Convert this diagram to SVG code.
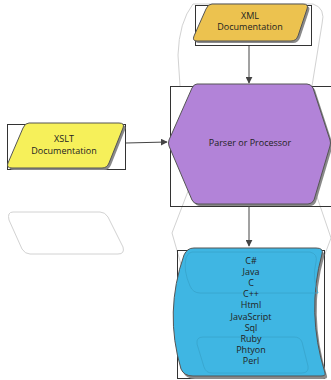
<svg xmlns="http://www.w3.org/2000/svg" width="331" height="380" viewBox="0 0 331 380">
<defs>
<style>
.ghost{fill:none;stroke:#d2d2d2;stroke-width:1}
.bbox{fill:none;stroke:#333;stroke-width:1}
.shadow{fill:#8a8a8a;stroke:none}
.shape{stroke:#555;stroke-width:1}
.lbl{font-family:"Open Sans","DejaVu Sans",sans-serif;font-size:9px;fill:#222;text-anchor:middle}
.conn{fill:none;stroke:#444;stroke-width:1}
.inner{fill:none;stroke:#37a3cc;stroke-width:0.8}
</style>
<marker id="arr" viewBox="0 0 10 10" refX="9" refY="5" markerWidth="7" markerHeight="7" orient="auto" markerUnits="userSpaceOnUse">
<path d="M0,0 L10,5 L0,10 Z" fill="#444"/>
</marker>
</defs>
<g id="ghosts">
<path class="ghost" d="M193,4 Q179,22 178,55 L180,86"/>
<path class="ghost" d="M193,4 L313,4 Q326,8 322,24 L312,86"/>
<path class="ghost" d="M190,186 L172,233 L186,282"/>
<path class="ghost" d="M314,188 L331,238 L322,262"/>
<path class="ghost" d="M13,212 L100,212 Q105,212 108,217 L123,247 Q125,254 118,254 L30,254 Q25,254 22,249 L9,220 Q7,212 13,212 Z"/>
</g>
<g id="xml">
<rect class="bbox" x="195.5" y="5.5" width="116" height="40"/>
<path class="shadow" d="M214,6 L305,6 Q311,6 309,11 L300,38 Q298,43 293,43 L199,43 Q194,43 196,38 L208,11 Q210,6 214,6 Z"/>
<path class="shape" fill="#ecc24f" d="M212,4 L303,4 Q309,4 307,9 L298,36 Q296,41 291,41 L197,41 Q192,41 194,36 L206,9 Q208,4 212,4 Z"/>
<text class="lbl" x="250" y="19">XML</text>
<text class="lbl" x="250" y="30">Documentation</text>
</g>
<g id="xslt">
<rect class="bbox" x="7.5" y="124.5" width="118" height="45"/>
<path class="shadow" d="M31,125 L121,125 Q127,125 125,130 L111,165 Q109,170 104,170 L14,170 Q8,170 10,165 L25,130 Q27,125 31,125 Z"/>
<path class="shape" fill="#f6f05a" d="M29,123 L119,123 Q125,123 123,128 L109,163 Q107,168 102,168 L12,168 Q6,168 8,163 L23,128 Q25,123 29,123 Z"/>
<text class="lbl" x="64" y="142">XSLT</text>
<text class="lbl" x="64" y="154">Documentation</text>
</g>
<g id="parser">
<rect class="bbox" x="170.5" y="86.5" width="165" height="120"/>
<path class="shadow" d="M199,86 L309,86 Q313,86 315,90 L332,142 Q333,145 332,148 L316,202 Q314,206 310,206 L200,206 Q196,206 194,202 L171,148 Q170,145 171,142 L194,90 Q196,86 199,86 Z"/>
<path class="shape" fill="#b283d8" d="M197,84 L307,84 Q311,84 313,88 L330,140 Q331,143 330,146 L314,200 Q312,204 308,204 L198,204 Q194,204 192,200 L169,146 Q168,143 169,140 L192,88 Q194,84 197,84 Z"/>
<text class="lbl" x="250" y="146">Parser or Processor</text>
</g>
<g id="languages">
<rect class="bbox" x="177.5" y="250.5" width="147" height="128"/>
<path class="shadow" d="M196,251 L318,251 Q326,251 324,257 Q308,314 327,376 Q328,379 323,379 L195,379 Q186,379 183,372 Q166,314 186,258 Q189,251 196,251 Z"/>
<path class="shape" fill="#3fb6e3" d="M194,248 L316,248 Q324,248 322,254 Q306,312 325,373 Q326,376 321,376 L193,376 Q184,376 181,369 Q164,312 184,255 Q187,248 194,248 Z"/>
<path class="inner" d="M192,252 L310,252 Q318,254 316,262 Q312,278 318,293 L200,293 Q193,293 190,286 Q183,270 186,258 Q188,252 192,252 Z"/>
<path class="inner" d="M203,337 L294,337 Q300,337 302,342 L308,366 Q309,373 302,373 L212,373 Q206,373 204,367 L197,344 Q196,337 203,337 Z"/>
<text class="lbl" x="251" y="264">C#</text>
<text class="lbl" x="251" y="275">Java</text>
<text class="lbl" x="251" y="286">C</text>
<text class="lbl" x="251" y="297">C++</text>
<text class="lbl" x="251" y="308">Html</text>
<text class="lbl" x="251" y="320">JavaScript</text>
<text class="lbl" x="251" y="331">Sql</text>
<text class="lbl" x="251" y="342">Ruby</text>
<text class="lbl" x="251" y="353">Phtyon</text>
<text class="lbl" x="251" y="364">Perl</text>
</g>
<g id="connectors">
<path class="conn" marker-end="url(#arr)" d="M249,46 L249,83"/>
<path class="conn" marker-end="url(#arr)" d="M126,143 L167,142"/>
<path class="conn" marker-end="url(#arr)" d="M249,206 L249,246"/>
</g>
</svg>
